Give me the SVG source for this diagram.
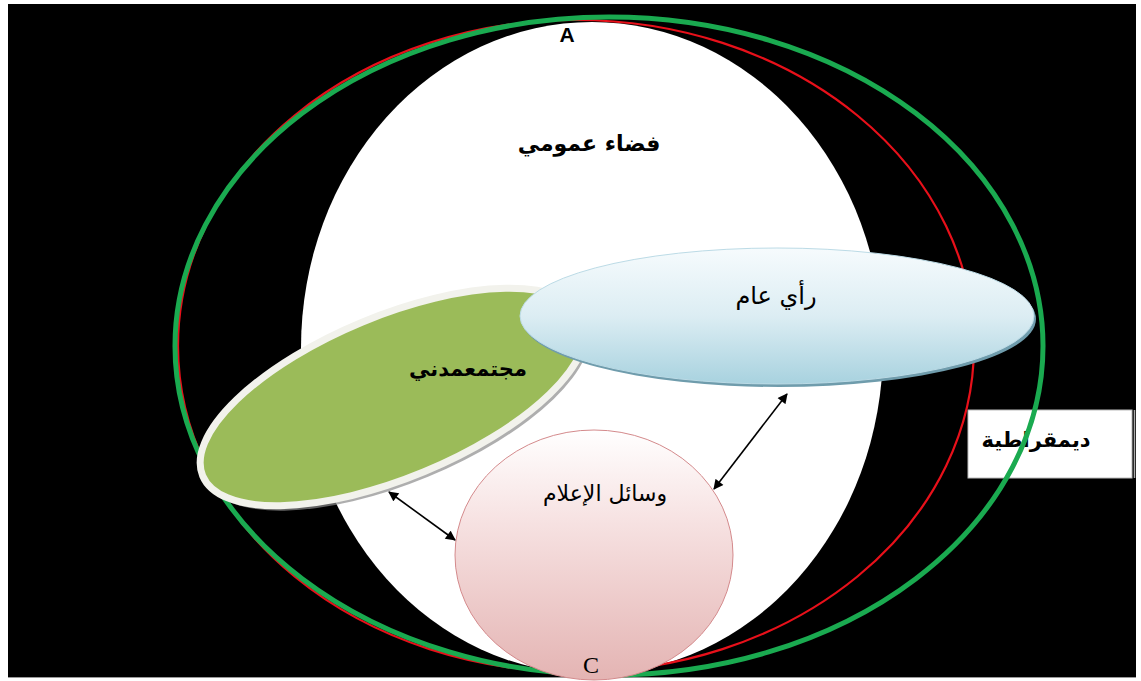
<svg xmlns="http://www.w3.org/2000/svg" width="1141" height="681" viewBox="0 0 1141 681">
<style>
.ar{font-family:"DejaVu Sans","Noto Sans",sans-serif;fill:#000;text-anchor:middle}
.b{font-weight:bold}
.lat{font-family:"Liberation Sans",Arial,sans-serif;font-weight:bold;fill:#000;text-anchor:middle}
.conn{stroke:#000;stroke-width:1.6;fill:none;marker-start:url(#ah);marker-end:url(#ah)}
</style>
<defs>
<linearGradient id="gBlue" x1="0" y1="0" x2="0" y2="1">
<stop offset="0" stop-color="#f6fbfd"/>
<stop offset="0.5" stop-color="#dcedf3"/>
<stop offset="1" stop-color="#a8d2df"/>
</linearGradient>
<linearGradient id="gPink" x1="0" y1="0" x2="0" y2="1">
<stop offset="0" stop-color="#ffffff"/>
<stop offset="0.35" stop-color="#f7e3e3"/>
<stop offset="1" stop-color="#e4b4b3"/>
</linearGradient>
<marker id="ah" viewBox="0 0 10 10" refX="9" refY="5" markerWidth="11" markerHeight="10" orient="auto-start-reverse" markerUnits="userSpaceOnUse">
<path d="M0,0 L10,5 L0,10 z" fill="#000"/>
</marker>
</defs>
<rect x="0" y="0" width="1141" height="681" fill="#fff"/>
<rect x="8" y="4" width="1128" height="673" fill="#000"/>
<line x1="8" y1="677.5" x2="1136" y2="677.5" stroke="#999" stroke-width="1"/>

<g id="public-space">
<ellipse cx="592" cy="348" rx="291" ry="326" fill="#fff"/>
<text class="ar b" x="589" y="151" font-size="22">فضاء عمومي</text>
</g>

<g id="democracy">
<rect x="968" y="410" width="164" height="68" fill="#fff" stroke="#bbb" stroke-width="1"/>
<line x1="1134.5" y1="410" x2="1134.5" y2="478" stroke="#aaa" stroke-width="1.5"/>
<text class="ar b" x="1036" y="447" font-size="21">ديمقراطية</text>
</g>

<g id="ring-red">
<ellipse cx="576" cy="346" rx="398" ry="326" fill="none" stroke="#e8101a" stroke-width="2.2"/>
</g>
<g id="ring-green">
<ellipse cx="609" cy="346" rx="434" ry="329" fill="none" stroke="#1aaa50" stroke-width="5"/>
</g>

<g id="label-A"><text class="lat" x="567" y="42" font-size="21">A</text></g>

<g id="civil-society">
<ellipse cx="397" cy="402" rx="206" ry="81" transform="rotate(-22.5 397 402)" fill="#8c8c8c" opacity="0.7"/>
<ellipse cx="393" cy="397" rx="206" ry="81" transform="rotate(-22.5 393 397)" fill="#9bbb59" stroke="#f2f2ec" stroke-width="7"/>
<text class="ar b" x="468" y="376" font-size="21">مجتمعمدني</text>
</g>

<g id="public-opinion">
<ellipse cx="779" cy="319" rx="257" ry="68" fill="#6f9cac"/>
<ellipse cx="777" cy="316" rx="257" ry="68" fill="url(#gBlue)" stroke="#bcdbe6" stroke-width="1"/>
<text class="ar" x="776" y="304" font-size="24">رأي عام</text>
</g>

<g id="media">
<ellipse cx="594" cy="555" rx="139" ry="125" fill="url(#gPink)" stroke="#d48a8c" stroke-width="1"/>
<text class="ar" x="605" y="501" font-size="22">وسائل الإعلام</text>
<text x="591" y="673" font-size="24" font-family="Liberation Serif, Times New Roman, serif" text-anchor="middle" fill="#000">C</text>
</g>

<g id="connectors">
<line class="conn" x1="389" y1="492" x2="455" y2="540"/>
<line class="conn" x1="714" y1="489" x2="787" y2="394"/>
</g>
</svg>
